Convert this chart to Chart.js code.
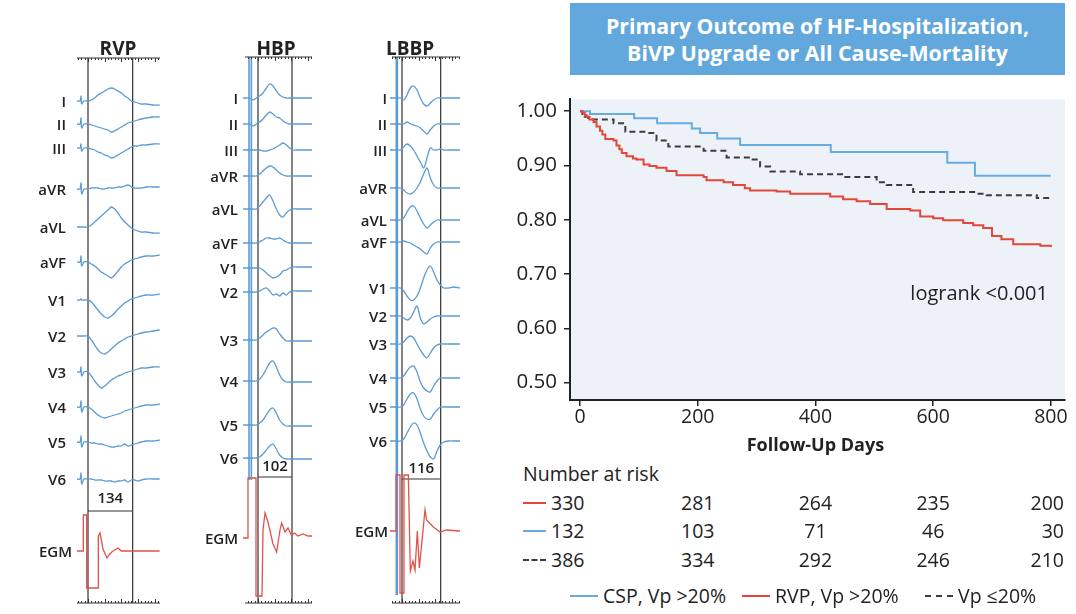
<!DOCTYPE html>
<html>
<head>
<meta charset="utf-8">
<script src="https://cdn.jsdelivr.net/npm/chart.js@4.4.0/dist/chart.umd.min.js"></script>
<style>
  body { margin: 0; width: 1076px; height: 614px; background: #fff; position: relative; overflow: hidden;
         font-family: "Open Sans", "Noto Sans", sans-serif; color: #222; }
  canvas { position: absolute; }
  .t { position: absolute; white-space: nowrap; line-height: 1; }
  #head { position: absolute; left: 570px; top: 3px; width: 495px; height: 72px; background: #63a8dc;
          color: #fff; font-weight: 700; font-size: 21.3px; line-height: 27px; text-align: center;
          display: flex; align-items: center; justify-content: center; }
</style>
</head>
<body>
<div id="head"><div>Primary Outcome of HF-Hospitalization,<br>BiVP Upgrade or All Cause-Mortality</div></div>
<canvas id="km" width="590" height="380" style="left:480px;top:80px"></canvas>
<canvas id="ecg-rvp" width="100" height="560" style="left:70px;top:50px"></canvas>
<canvas id="ecg-hbp" width="80" height="560" style="left:238px;top:50px"></canvas>
<canvas id="ecg-lbbp" width="80" height="560" style="left:385px;top:50px"></canvas>
<script>
// ---- Kaplan-Meier curves (day, event-free survival) ----
const cspDays = [0, 17, 92, 131, 190, 204, 233, 272, 426, 624, 671, 800];
const cspSurv = [1.0, 0.995, 0.987, 0.978, 0.968, 0.960, 0.950, 0.938, 0.925, 0.905, 0.881, 0.881];

const rvpDays = [0, 4, 8, 11, 16, 23, 28, 34, 38, 43, 57, 62, 67, 71, 79, 90, 96, 108, 118, 130, 147, 164, 210, 215,
                 244, 260, 280, 289, 334, 357, 425, 447, 470, 493, 521, 561, 578, 600, 617, 651, 668, 685, 700, 716, 736, 782, 800];
const rvpSurv = [1.0, 0.997, 0.993, 0.99, 0.985, 0.98, 0.972, 0.964, 0.957, 0.949, 0.946, 0.937, 0.93, 0.923, 0.917, 0.913,
                 0.911, 0.902, 0.899, 0.896, 0.89, 0.882, 0.879, 0.873, 0.869, 0.864, 0.858, 0.854, 0.852, 0.848, 0.843, 0.838,
                 0.834, 0.829, 0.82, 0.817, 0.806, 0.803, 0.799, 0.794, 0.79, 0.785, 0.77, 0.764, 0.755, 0.752, 0.75];

const vpDays = [0, 4, 8, 14, 57, 77, 113, 130, 150, 210, 249, 289, 306, 323, 374, 447, 504, 521, 566, 674, 691, 776, 800];
const vpSurv = [1.0, 0.995, 0.99, 0.985, 0.978, 0.962, 0.96, 0.946, 0.935, 0.927, 0.915, 0.911, 0.898, 0.889, 0.884,
                0.879, 0.869, 0.864, 0.851, 0.848, 0.845, 0.84, 0.84];

const xTicks = [0, 200, 400, 600, 800];
const yTicks = [0.5, 0.6, 0.7, 0.8, 0.9, 1.0];

// number at risk at 0/200/400/600/800 days
const riskRVP = [330, 281, 264, 235, 200];
const riskCSP = [132, 103, 71, 46, 30];
const riskVp = [386, 334, 292, 246, 210];

// ---- ECG traces (time in ms from pacing, amplitude in px, up positive) ----
const leadNames = ['I', 'II', 'III', 'aVR', 'aVL', 'aVF', 'V1', 'V2', 'V3', 'V4', 'V5', 'V6'];

const rvpTimes = [-33, -24, -21, -19, -12, 0, 10, 20, 30, 40, 50, 60, 70, 80, 90, 100, 110, 120, 130, 140, 150, 160, 175, 195, 215];
const rvpLeads = [
  [0, 0, 5, -3, 0, 0, 1, 3, 6, 8, 10, 12, 13, 12, 10, 8, 5, 3, 0, -1, -2, -3, -3, -4, -4],
  [0, 0, 6, -4, 0, 0, -1, -2, -3, -4, -5, -6, -8, -7, -5, -3, -1, 1, 2, 3, 4, 5, 6, 7, 7],
  [0, 0, 4, -3, 0, 0, -1, -2, -4, -5, -7, -8, -10, -9, -7, -5, -3, -1, 1, 2, 2, 3, 3, 4, 4],
  [0, 0, 6, -5, 0, 0, 1, 1, 1, 0, 0, 1, 1, 1, 2, 2, 3, 4, 2, 1, 1, 1, 2, 2, 2],
  [0, 0, 0, 0, 0, 0, 2, 5, 8, 11, 14, 17, 20, 18, 14, 9, 5, 2, -1, -3, -4, -5, -5, -6, -6],
  [0, 0, 6, -4, 0, 0, -2, -4, -7, -10, -12, -14, -16, -13, -9, -5, -2, 0, 2, 3, 4, 5, 6, 6, 7],
  [0, 0, 1, 0, 0, 0, -2, -6, -10, -14, -17, -18, -16, -13, -9, -6, -3, -1, 1, 2, 3, 4, 5, 5, 6],
  [0, 0, 0, 0, 0, 0, -4, -9, -14, -17, -18, -16, -13, -10, -7, -5, -3, -1, 0, 1, 2, 3, 4, 5, 6],
  [0, 0, 5, -4, 0, 0, -4, -9, -13, -16, -14, -11, -8, -6, -4, -3, -1, 0, 1, 2, 3, 4, 4, 5, 5],
  [0, 0, 6, -5, 0, 0, -2, -5, -8, -10, -11, -10, -9, -8, -7, -6, -4, -3, -2, -1, 0, 1, 2, 2, 3],
  [0, 0, 6, -5, 0, 0, -1, -1, -2, -2, -3, -4, -5, -5, -4, -4, -2, -4, -3, -2, -1, 0, 1, 1, 2],
  [0, 0, 6, -5, 0, 0, 0, -1, -1, -1, -2, -2, -2, -3, -2, -2, -1, -3, -1, -1, -2, -1, 0, 0, 0]
];
const rvpEgmTimes = [-33, -14, -14, -4, -4, 31, 31, 36, 45, 57, 65, 75, 90, 100, 215];
const rvpEgm = [0, 0, 36, 36, -37, -37, 15, 18, 2, -7, -3, 0, 3, 0, 0];

const hbpTimes = [-45, -35, -25, -15, -5, 5, 15, 25, 35, 45, 55, 65, 75, 85, 95, 105, 115, 130, 145, 162];
const hbpLeads = [
  [0, 0, 0, -2, 0, 2, 5, 10, 14, 12, 7, 3, 1, 0, 0, 0, 0, 0, 0, 0],
  [0, 0, 0, -2, 0, 2, 5, 9, 12, 10, 7, 6, 3, 1, 0, 0, 0, 0, 0, 0],
  [0, 0, 0, 0, 0, 0, -1, -1, 0, 1, 3, 5, 7, 5, 2, 0, 0, 0, 0, 0],
  [0, 0, 0, 0, 0, 2, 5, 8, 10, 9, 6, 3, 1, 0, 0, 0, 0, 0, 0, 0],
  [0, 0, 0, 0, 0, 3, 7, 11, 14, 8, 0, -6, -8, -4, -1, 0, 0, 0, 0, 0],
  [0, 0, 0, 0, 0, 1, 3, 5, 5, 4, 4, 5, 3, 1, 0, 0, 0, 0, 0, 0],
  [0, 0, 0, 0, 0, 0, -2, -5, -8, -10, -9, -7, -3, -2, 0, 1, 1, 1, 1, 1],
  [0, 0, 0, 0, 0, 1, 3, 4, 1, -3, -2, -4, -1, -3, 0, 1, 1, 1, 1, 1],
  [0, 0, 0, 0, 0, 2, 5, 8, 10, 12, 11, 6, 2, -1, -1, -1, -1, -1, -1, -1],
  [0, 0, 0, 0, 0, 2, 6, 12, 18, 20, 14, 6, 1, -1, -1, -1, -1, -1, -1, -1],
  [0, 0, 0, 0, 0, 2, 5, 10, 15, 17, 12, 5, 1, -1, -1, -1, -1, -1, -1, -1],
  [0, 0, 0, 0, 0, 1, 4, 8, 12, 14, 9, 3, 0, -1, -1, -1, -1, -1, -1, -1]
];
const hbpEgmTimes = [-45, -30, -30, -6, -6, 12, 15, 21, 30, 45, 56, 66, 71, 81, 90, 100, 110, 120, 135, 150, 162];
const hbpEgm = [0, 0, 60, 60, -58, -58, 8, 25, 16, -6, -14, 8, 15, 6, 10, 3, 5, 2, 4, 2, 2];

const lbbpTimes = [-36, -25, -15, -5, 5, 15, 25, 35, 45, 55, 65, 75, 85, 95, 105, 115, 125, 140, 155, 174];
const lbbpLeads = [
  [0, 0, 0, 0, -2, 3, 10, 12, 8, 0, -6, -8, -5, -2, 0, 0, 0, 0, 0, 0],
  [0, 0, 0, 0, 0, 2, 0, -1, -2, -4, -7, -10, -6, -2, 0, 0, 0, 0, 0, 0],
  [0, 0, 0, 0, 3, 6, 4, 0, -6, -12, -18, -8, 2, 0, 0, 1, 0, 0, 0, 0],
  [0, 0, 0, 0, -2, -5, -6, -4, 0, 6, 14, 20, 10, 3, 0, 0, 0, 0, 0, 0],
  [0, 0, 0, 0, 2, 8, 13, 14, 9, 2, -4, -8, -5, -2, 0, 0, 0, 0, 0, 0],
  [0, 0, 0, 0, 1, 0, -1, -3, -5, -7, -10, -12, -6, -2, 0, 0, 0, 0, 0, 0],
  [0, 0, 0, 0, -3, -8, -12, -12, -8, 0, 10, 18, 22, 16, 8, 3, 0, 0, 1, 0],
  [0, 0, 0, 0, -2, -4, -2, 4, 10, -2, -8, -6, -3, -1, 0, 0, 0, 0, 0, 0],
  [0, 0, 0, 0, 2, 6, 8, 6, 0, -6, -11, -14, -9, -4, -1, 0, 0, 0, 0, 0],
  [0, 0, 0, 0, 2, 7, 11, 12, 6, -4, -10, -13, -14, -8, -3, 0, 0, 0, 0, 0],
  [0, 0, 0, 0, 2, 8, 13, 14, 8, -2, -9, -12, -12, -7, -3, 0, 0, 0, 0, 0],
  [0, 0, 0, 0, 2, 8, 14, 18, 16, 8, -2, -10, -16, -18, -10, -4, -1, 0, 0, 0]
];
const lbbpEgmTimes = [-36, -18, -18, -6, -6, 6, 6, 19, 25, 33, 39, 46, 52, 69, 74, 94, 114, 134, 174];
const lbbpEgm = [0, 0, 56, 56, -62, -62, 56, 56, -40, -30, -39, 0, -37, 21, 11, 4, -1, 1, 0];

const qrsDurations = [134, 102, 116];

// ---- layout ----
const BLUE = '#5b9bd5', RED = '#e0524a', INK = '#333';
const panels = [
  { id: 'ecg-rvp', name: 'RVP', left: 70, width: 100, zeroX: 88, titleX: 118, ruler: [-33, 216], rulerTop: 58,
    labelRight: 66, bases: [101, 124, 148, 189, 227, 262, 300, 336, 372, 407, 442, 479], egmBase: 551, egmLabelRight: 72,
    boxY: 511, durY: 497, times: rvpTimes, leads: rvpLeads, egmT: rvpEgmTimes, egm: rvpEgm, artifact: [] },
  { id: 'ecg-hbp', name: 'HBP', left: 238, width: 80, zeroX: 258, titleX: 276, ruler: [-39, 162], rulerTop: 57,
    labelRight: 238, bases: [98, 124, 150, 176, 209, 243, 268, 292, 340, 381, 425, 458], egmBase: 538, egmLabelRight: 238,
    boxY: 477, durY: 465, times: hbpTimes, leads: hbpLeads, egmT: hbpEgmTimes, egm: hbpEgm, artifact: [-27, -20], artifactEnd: 480 },
  { id: 'ecg-lbbp', name: 'LBBP', left: 385, width: 80, zeroX: 402, titleX: 410, ruler: [-30, 174], rulerTop: 57,
    labelRight: 387, bases: [98, 124, 150, 188, 220, 242, 288, 316, 344, 378, 407, 441], egmBase: 531, egmLabelRight: 388,
    boxY: 479, durY: 467, times: lbbpTimes, leads: lbbpLeads, egmT: lbbpEgmTimes, egm: lbbpEgm, artifact: [-17, -14], artifactEnd: 595 }
];
const CANVAS_TOP = 50, CANVAS_H = 560, RULER_BOTTOM = 603, MS_PER_PX = 3;

function addText(txt, x, y, opts = {}) {
  const d = document.createElement('div');
  d.className = 't';
  d.textContent = txt;
  d.style.left = x + 'px';
  d.style.top = y + 'px';
  d.style.fontSize = (opts.size || 16) + 'px';
  if (opts.weight) d.style.fontWeight = opts.weight;
  if (opts.color) d.style.color = opts.color;
  const tx = opts.align === 'right' ? '-100%' : opts.align === 'center' ? '-50%' : '0';
  d.style.transform = `translate(${tx}, -50%)`;
  document.body.appendChild(d);
  return d;
}

const xy = (xs, ys) => xs.map((x, i) => ({ x: x, y: ys[i] }));

// ---- ECG panels ----
const rulerPlugin = {
  id: 'ruler',
  afterDatasetsDraw(chart, args, opts) {
    const ctx = chart.ctx, sx = chart.scales.x, sy = chart.scales.y;
    ctx.save();
    ctx.strokeStyle = INK;
    ctx.lineWidth = 1;
    [[opts.top, 1], [RULER_BOTTOM, -1]].forEach(([yv, dir]) => {
      const y = sy.getPixelForValue(yv);
      ctx.beginPath();
      ctx.moveTo(sx.getPixelForValue(opts.from), y);
      ctx.lineTo(sx.getPixelForValue(opts.to), y);
      for (let t = Math.ceil(opts.from / 10) * 10; t <= opts.to; t += 10) {
        const x = Math.round(sx.getPixelForValue(t)) + 0.5;
        const len = t % 50 === 0 ? 4 : 2;
        ctx.moveTo(x, y);
        ctx.lineTo(x, y + dir * len);
      }
      ctx.stroke();
    });
    ctx.restore();
  }
};

panels.forEach((p, pi) => {
  const dur = qrsDurations[pi];
  const datasets = [];
  p.leads.forEach((amp, li) => {
    datasets.push({ data: p.times.map((t, i) => ({ x: t, y: p.bases[li] - amp[i] })),
                    borderColor: BLUE, borderWidth: 1.3, tension: 0.3 });
  });
  datasets.push({ data: p.egmT.map((t, i) => ({ x: t, y: p.egmBase - p.egm[i] })),
                  borderColor: RED, borderWidth: 1.3, tension: 0 });
  p.artifact.forEach(t => datasets.push({ data: [{ x: t, y: p.rulerTop }, { x: t, y: p.artifactEnd }],
                                          borderColor: BLUE, borderWidth: 1.6, tension: 0 }));
  [0, dur].forEach(t => datasets.push({ data: [{ x: t, y: p.rulerTop }, { x: t, y: RULER_BOTTOM }],
                                        borderColor: INK, borderWidth: 1.2, tension: 0 }));
  datasets.push({ data: [{ x: 0, y: p.boxY }, { x: dur, y: p.boxY }], borderColor: INK, borderWidth: 1.2, tension: 0 });

  datasets.forEach(d => Object.assign(d, { showLine: true, pointRadius: 0, fill: false }));

  new Chart(document.getElementById(p.id), {
    type: 'scatter',
    data: { datasets },
    options: {
      responsive: false, animation: false, events: [],
      layout: { padding: 0 },
      plugins: { legend: { display: false }, tooltip: { enabled: false },
                 ruler: { from: p.ruler[0], to: p.ruler[1], top: p.rulerTop } },
      scales: {
        x: { type: 'linear', display: false, min: (p.left - p.zeroX) * MS_PER_PX, max: (p.left + p.width - p.zeroX) * MS_PER_PX },
        y: { type: 'linear', display: false, reverse: true, min: CANVAS_TOP, max: CANVAS_TOP + CANVAS_H }
      }
    },
    plugins: [rulerPlugin]
  });

  addText(p.name, p.titleX, 48, { size: 19, weight: 700, align: 'center' });
  leadNames.forEach((n, li) => addText(n, p.labelRight, p.bases[li], { size: 15, weight: 600, align: 'right' }));
  addText('EGM', p.egmLabelRight, p.egmBase, { size: 15, weight: 600, align: 'right' });
  addText(String(dur), p.zeroX + dur / MS_PER_PX / 2, p.durY, { size: 15, weight: 600, align: 'center' });
});

// ---- Kaplan-Meier chart ----
const kmBg = {
  id: 'kmBg',
  beforeDraw(chart) {
    const { ctx, chartArea: a } = chart;
    ctx.save();
    ctx.fillStyle = '#edf2f9';
    ctx.fillRect(a.left, a.top, a.right - a.left, a.bottom - a.top);
    ctx.restore();
  }
};

const km = new Chart(document.getElementById('km'), {
  type: 'scatter',
  data: {
    datasets: [
      { data: xy(rvpDays, rvpSurv), borderColor: '#e4473a', order: 0 },
      { data: xy(cspDays, cspSurv), borderColor: '#68acdf', order: 1 },
      { data: xy(vpDays, vpSurv), borderColor: '#3d3d3d', borderDash: [6, 4], order: 2 }
    ].map(d => Object.assign({ showLine: true, stepped: true, pointRadius: 0, borderWidth: 2, fill: false }, d))
  },
  options: {
    responsive: false, animation: false, events: [],
    layout: { padding: { top: 5, right: 5, left: 0, bottom: 0 } },
    plugins: { legend: { display: false }, tooltip: { enabled: false } },
    scales: {
      x: {
        type: 'linear', min: -17, max: 824,
        afterBuildTicks: s => { s.ticks = xTicks.map(v => ({ value: v })); },
        afterFit: s => { s.height = 60; },
        ticks: { font: { family: 'Open Sans', size: 19.5 }, color: '#222', padding: 0 },
        grid: { drawOnChartArea: false, tickLength: 6, color: '#222', lineWidth: 1.5 },
        border: { color: '#222', width: 2 }
      },
      y: {
        min: 0.468, max: 1.022,
        afterBuildTicks: s => { s.ticks = yTicks.map(v => ({ value: v })); },
        afterFit: s => { s.width = 90; },
        ticks: { font: { family: 'Open Sans', size: 20.5 }, color: '#222', padding: 7, callback: v => v.toFixed(2) },
        grid: { drawOnChartArea: false, tickLength: 6, color: '#222', lineWidth: 1.5 },
        border: { color: '#222', width: 2 }
      }
    }
  },
  plugins: [kmBg]
});

const kmLeft = 480;
const dayPx = d => kmLeft + km.scales.x.getPixelForValue(d);
addText('Follow-Up Days', dayPx(400), 444, { size: 18, weight: 700, align: 'center' });
addText('logrank <0.001', 1048, 293, { size: 20, align: 'right' });

// number at risk table
const TXT = 19.5;
addText('Number at risk', 523, 474, { size: TXT });
const rows = [
  { vals: riskRVP, color: '#e4473a', dash: false, y: 503 },
  { vals: riskCSP, color: '#68acdf', dash: false, y: 531 },
  { vals: riskVp, color: '#3d3d3d', dash: true, y: 560 }
];
function swatch(x, y, color, dash, w) {
  const s = document.createElement('div');
  s.style.cssText = `position:absolute;left:${x}px;top:${y - 1}px;width:${w}px;height:0;border-top:2px ${dash ? 'dashed' : 'solid'} ${color};`;
  document.body.appendChild(s);
}
rows.forEach(r => {
  swatch(523, r.y, r.color, r.dash, 23);
  r.vals.forEach((v, i) => {
    if (i === 0) addText(String(v), 551, r.y, { size: TXT });
    else if (i === r.vals.length - 1) addText(String(v), 1064, r.y, { size: TXT, align: 'right' });
    else addText(String(v), dayPx(xTicks[i]), r.y, { size: TXT, align: 'center' });
  });
});

// legend
const legendItems = [
  { label: 'CSP, Vp >20%', color: '#68acdf', dash: false, x: 570 },
  { label: 'RVP, Vp >20%', color: '#e4473a', dash: false, x: 742 },
  { label: 'Vp \u226420%', color: '#3d3d3d', dash: true, x: 925 }
];
legendItems.forEach(it => {
  swatch(it.x, 596, it.color, it.dash, 28);
  addText(it.label, it.x + 33, 596, { size: TXT });
});
</script>
</body>
</html>
